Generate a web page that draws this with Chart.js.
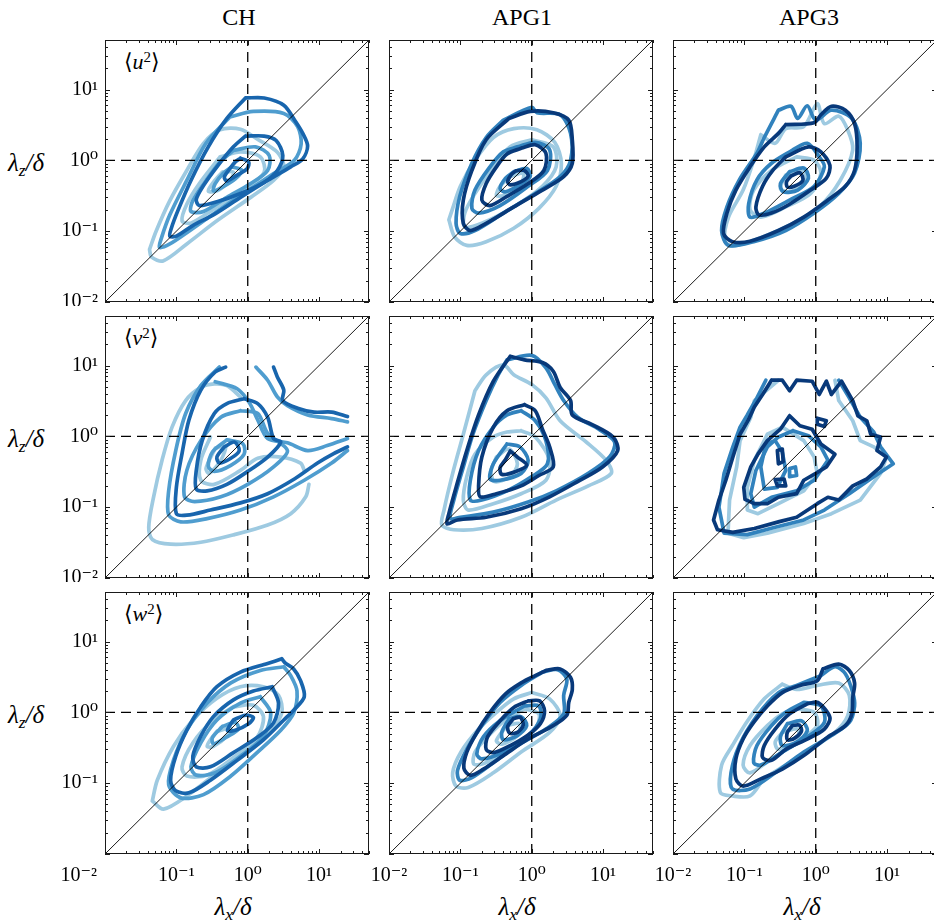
<!DOCTYPE html>
<html>
<head>
<meta charset="utf-8">
<script src="https://cdn.jsdelivr.net/npm/chart.js@4.4.1/dist/chart.umd.min.js"></script>
<style>
  body { margin: 0; background: #fff; width: 934px; height: 922px; position: relative; overflow: hidden;
         font-family: "Liberation Serif", "DejaVu Serif", serif; color: #000; }
  canvas { position: absolute; }
  .t { position: absolute; white-space: nowrap; }
  .col { top: 5px; width: 200px; text-align: center; font-size: 24px; line-height: 24px; }
  .ax { font-size: 25px; line-height: 25px; font-style: italic; }
  .xt { width: 100px; text-align: center; top: 894px; }
  .pl { font-size: 22px; line-height: 22px; }
  sub { font-size: 0.7em; vertical-align: -0.3em; line-height: 0; }
  sup { font-size: 0.68em; vertical-align: 0.45em; line-height: 0; }
</style>
</head>
<body>
<div class="t col" style="left:139px">CH</div>
<div class="t col" style="left:422px">APG1</div>
<div class="t col" style="left:709px">APG3</div>

<div class="t ax" style="left:8px;top:150px">λ<sub>z</sub>/δ</div>
<div class="t ax" style="left:8px;top:426px">λ<sub>z</sub>/δ</div>
<div class="t ax" style="left:8px;top:702px">λ<sub>z</sub>/δ</div>

<div class="t ax xt" style="left:183px">λ<sub>x</sub>/δ</div>
<div class="t ax xt" style="left:467px">λ<sub>x</sub>/δ</div>
<div class="t ax xt" style="left:752px">λ<sub>x</sub>/δ</div>

<div class="t pl" style="left:124px;top:51px">⟨<i>u</i><sup>2</sup>⟩</div>
<div class="t pl" style="left:124px;top:327px">⟨<i>v</i><sup>2</sup>⟩</div>
<div class="t pl" style="left:124px;top:603px">⟨<i>w</i><sup>2</sup>⟩</div>

<script>
// axis ticks
const tickValues = [0.01, 0.1, 1, 10];
const tickLabels = ['10⁻²', '10⁻¹', '10⁰', '10¹'];
const axisMin = 0.01, axisMax = 50;

// reference lines: lambda_z = lambda_x, lambda = delta
const diagonal = [[0.01, 0.01], [50, 50]];
const unitRow = [[0.01, 1], [50, 1]];
const unitCol = [[1, 0.01], [1, 50]];

// contours, [lambda_x/delta, lambda_z/delta]
// CH
const CH_u_light = [
  [[0.042,0.055],[0.052,0.10],[0.081,0.27],[0.14,0.72],[0.24,1.74],[0.41,2.7],[0.79,2.75],[1.35,2.0],[2.6,1.3],[3.2,0.81],[2.3,0.52],[1.1,0.30],[0.37,0.14],[0.14,0.066],[0.065,0.038],[0.045,0.043],[0.042,0.055]],
  [[0.41,1.12],[0.79,1.32],[1.5,1.12],[1.7,0.68],[0.98,0.42],[0.37,0.22],[0.16,0.13],[0.12,0.14],[0.14,0.24],[0.21,0.47],[0.41,1.12]],
  [[0.44,0.68],[0.63,0.68],[0.56,0.52],[0.37,0.37],[0.28,0.37],[0.33,0.49],[0.44,0.68]]
];
const CH_u_mid = [
  [[0.56,4.1],[1.2,4.9],[3.2,4.6],[5.0,3.0],[5.6,1.7],[4.5,1.0],[2.3,0.65],[0.98,0.37],[0.37,0.19],[0.15,0.10],[0.081,0.066],[0.058,0.059],[0.062,0.081],[0.081,0.17],[0.14,0.52],[0.26,1.74],[0.56,4.1]],
  [[0.63,1.38],[1.29,1.55],[2.0,1.17],[1.9,0.72],[1.1,0.47],[0.51,0.30],[0.24,0.19],[0.16,0.19],[0.17,0.27],[0.26,0.52],[0.41,0.95],[0.63,1.38]],
  [[0.60,0.81],[0.83,0.72],[0.67,0.55],[0.44,0.42],[0.33,0.37],[0.35,0.47],[0.45,0.65],[0.60,0.81]]
];
const CH_u_dark = [
  [[0.93,7.6],[1.7,7.6],[3.2,6.0],[4.7,3.5],[5.9,2.4],[6.9,1.6],[5.9,1.05],[4.0,0.81],[1.9,0.52],[0.79,0.30],[0.33,0.17],[0.17,0.12],[0.10,0.085],[0.081,0.085],[0.085,0.11],[0.105,0.195],[0.16,0.52],[0.28,1.55],[0.51,3.9],[0.93,7.6]],
  [[0.93,2.2],[1.7,2.2],[2.5,1.9],[3.1,1.17],[2.6,0.72],[1.7,0.49],[0.79,0.34],[0.37,0.26],[0.21,0.23],[0.19,0.28],[0.24,0.44],[0.37,0.81],[0.63,1.55],[0.93,2.2]],
  [[0.79,1.07],[1.03,0.95],[0.98,0.76],[0.71,0.62],[0.51,0.51],[0.47,0.58],[0.56,0.76],[0.67,0.95],[0.79,1.07]]
];
const CH_v_light = [
  [[0.79,3.6],[0.51,5.2],[0.34,5.5],[0.22,4.9],[0.135,3.2],[0.087,1.35],[0.063,0.46],[0.048,0.14],[0.041,0.052],[0.046,0.035],[0.083,0.030],[0.22,0.032],[0.65,0.041],[1.9,0.056],[4.0,0.081],[6.5,0.14],[7.2,0.21]],
  [[0.30,0.98],[0.22,0.46],[0.22,0.24],[0.34,0.21],[0.79,0.33],[1.38,0.49],[2.9,0.51],[5.5,0.42],[6.2,0.33]],
  [[0.35,0.68],[0.49,0.74],[0.42,0.46],[0.29,0.30],[0.26,0.35],[0.35,0.68]]
];
const CH_v_mid = [
  [[0.40,9.5],[0.22,5.2],[0.135,2.1],[0.098,0.63],[0.078,0.17],[0.078,0.078],[0.115,0.062],[0.27,0.069],[0.79,0.091],[2.3,0.14],[6.2,0.24],[15,0.42],[25,0.63]],
  [[1.3,9.5],[1.9,6.2],[2.6,3.6],[3.6,2.7],[6.9,2.0],[15,1.78],[25,1.6]],
  [[0.35,5.9],[0.71,4.7],[1.05,3.0],[1.38,1.7],[1.9,0.93],[3.6,0.81],[6.9,0.63],[13,0.74],[25,0.93]],
  [[0.79,2.3],[1.38,2.1],[1.9,1.1],[3.6,0.63],[2.3,0.37],[1.0,0.21],[0.42,0.14],[0.18,0.12],[0.13,0.14],[0.14,0.33],[0.22,0.87],[0.42,1.86],[0.79,2.3]],
  [[0.51,0.89],[0.85,0.79],[0.89,0.56],[0.58,0.39],[0.34,0.32],[0.28,0.38],[0.32,0.60],[0.51,0.89]]
];
const CH_v_dark = [
  [[0.49,9.5],[0.35,8.1],[0.22,4.5],[0.15,1.7],[0.12,0.57],[0.10,0.19],[0.10,0.081],[0.14,0.077],[0.30,0.091],[0.79,0.115],[1.9,0.155],[4.5,0.25],[9.5,0.42],[16,0.57],[25,0.71]],
  [[2.3,9.5],[2.6,6.9],[3.2,4.5],[3.1,3.2],[5.0,2.5],[8.5,2.2],[15,2.2],[25,1.9]],
  [[0.89,3.4],[1.38,2.9],[1.9,1.86],[2.3,0.93],[2.9,0.83],[1.9,0.51],[1.0,0.32],[0.51,0.21],[0.27,0.17],[0.19,0.18],[0.19,0.33],[0.23,0.87],[0.34,2.1],[0.51,2.9],[0.89,3.4]],
  [[0.47,0.71],[0.65,0.83],[0.76,0.63],[0.58,0.49],[0.40,0.42],[0.37,0.51],[0.47,0.71]]
];
const CH_w_light = [
  [[0.046,0.056],[0.054,0.11],[0.091,0.33],[0.17,0.78],[0.37,1.58],[0.79,2.3],[1.66,2.3],[2.7,1.74],[3.0,0.98],[2.1,0.56],[0.98,0.30],[0.37,0.14],[0.14,0.066],[0.066,0.043],[0.046,0.056]],
  [[0.63,1.2],[0.33,0.78],[0.17,0.37],[0.12,0.17],[0.14,0.126],[0.27,0.13],[0.63,0.23],[1.35,0.44],[1.66,0.87],[1.2,1.26],[0.63,1.2]],
  [[0.37,0.54],[0.58,0.60],[0.51,0.46],[0.33,0.33],[0.27,0.33],[0.30,0.41],[0.37,0.54]]
];
const CH_w_mid = [
  [[3.2,4.4],[1.5,3.9],[0.58,2.6],[0.27,1.35],[0.14,0.56],[0.091,0.21],[0.078,0.095],[0.115,0.062],[0.24,0.069],[0.58,0.126],[1.35,0.27],[2.9,0.56],[4.4,0.98],[4.9,2.0],[4.0,3.3],[3.2,4.4]],
  [[1.5,1.66],[0.79,1.35],[0.37,0.78],[0.22,0.37],[0.16,0.17],[0.19,0.13],[0.35,0.14],[0.79,0.24],[1.66,0.46],[2.1,0.98],[1.5,1.66]],
  [[0.44,0.63],[0.67,0.72],[0.74,0.58],[0.51,0.45],[0.33,0.36],[0.32,0.44],[0.44,0.63]]
];
const CH_w_dark = [
  [[3.0,5.7],[1.9,4.9],[0.79,3.7],[0.37,2.3],[0.22,1.2],[0.14,0.56],[0.098,0.24],[0.083,0.11],[0.098,0.078],[0.15,0.073],[0.30,0.11],[0.71,0.21],[1.66,0.41],[3.2,0.78],[4.4,1.07],[6.2,1.66],[5.5,2.8],[4.4,4.1],[3.4,4.9],[3.0,5.7]],
  [[2.2,2.3],[1.2,2.0],[0.63,1.5],[0.33,0.87],[0.22,0.46],[0.17,0.24],[0.19,0.17],[0.30,0.17],[0.63,0.27],[1.35,0.44],[2.3,0.71],[2.7,1.35],[2.2,2.3]],
  [[0.63,0.78],[0.93,0.91],[1.2,0.85],[1.03,0.69],[0.67,0.56],[0.52,0.55],[0.58,0.69],[0.63,0.78]]
];
// APG1
const APG1_u_light = [
  [[0.069,0.145],[0.083,0.083],[0.123,0.063],[0.23,0.071],[0.56,0.11],[1.26,0.21],[2.2,0.43],[2.6,0.91],[2.1,1.8],[1.18,2.7],[0.56,2.8],[0.29,2.1],[0.16,1.0],[0.10,0.43],[0.078,0.21],[0.069,0.145]],
  [[1.0,1.95],[2.0,1.55],[2.2,0.81],[1.41,0.43],[0.56,0.22],[0.20,0.129],[0.115,0.115],[0.115,0.18],[0.16,0.34],[0.29,0.81],[0.50,1.55],[1.0,1.95]],
  [[0.50,0.59],[0.76,0.66],[0.71,0.47],[0.40,0.32],[0.32,0.32],[0.36,0.43],[0.50,0.59]]
];
const APG1_u_mid = [
  [[0.40,3.7],[1.0,5.6],[1.18,4.7],[2.5,4.4],[3.5,2.4],[3.5,1.0],[2.5,0.59],[1.12,0.34],[0.40,0.18],[0.16,0.102],[0.10,0.093],[0.087,0.129],[0.098,0.31],[0.145,0.91],[0.23,2.1],[0.40,3.7]],
  [[0.63,1.55],[1.12,1.8],[1.78,1.41],[1.66,0.72],[0.89,0.43],[0.36,0.23],[0.18,0.18],[0.145,0.21],[0.16,0.38],[0.26,0.81],[0.40,1.32],[0.63,1.55]],
  [[0.56,0.69],[0.85,0.77],[0.95,0.59],[0.68,0.45],[0.43,0.36],[0.36,0.40],[0.43,0.56],[0.56,0.69]]
];
const APG1_u_dark = [
  [[0.48,3.9],[0.95,4.9],[2.0,4.7],[3.3,3.7],[3.7,1.95],[3.7,0.91],[2.8,0.59],[1.41,0.38],[0.56,0.22],[0.23,0.129],[0.138,0.102],[0.11,0.129],[0.11,0.275],[0.145,0.72],[0.23,1.95],[0.48,3.9]],
  [[0.71,1.48],[1.12,1.66],[1.58,1.26],[1.48,0.72],[0.89,0.47],[0.45,0.31],[0.26,0.23],[0.20,0.275],[0.23,0.47],[0.32,0.81],[0.45,1.23],[0.71,1.48]],
  [[0.60,0.71],[0.79,0.72],[0.89,0.60],[0.71,0.50],[0.50,0.45],[0.46,0.50],[0.51,0.62],[0.60,0.71]]
];
const APG1_v_light = [
  [[0.16,4.4],[0.23,7.4],[0.40,10.2],[0.56,7.4],[1.0,5.4],[1.58,3.5],[2.5,1.66],[5.5,0.87],[11,0.46],[13,0.30],[6.2,0.20],[2.2,0.126],[0.71,0.072],[0.20,0.050],[0.081,0.048],[0.055,0.056],[0.059,0.091],[0.078,0.30],[0.11,1.07],[0.16,4.4]],
  [[0.71,1.2],[1.12,0.98],[1.78,0.46],[1.58,0.24],[0.71,0.155],[0.29,0.112],[0.129,0.091],[0.11,0.126],[0.123,0.27],[0.16,0.56],[0.29,0.98],[0.45,1.15],[0.71,1.2]],
  [[0.32,0.51],[0.48,0.66],[0.63,0.41],[0.50,0.27],[0.30,0.23],[0.27,0.33],[0.32,0.51]]
];
const APG1_v_mid = [
  [[0.45,12],[1.0,13.9],[1.58,9.3],[2.1,5.4],[2.8,3.2],[4.4,1.86],[8.7,1.26],[14.5,0.83],[12.3,0.51],[6.2,0.30],[2.2,0.17],[0.89,0.118],[0.29,0.085],[0.10,0.072],[0.072,0.069],[0.081,0.126],[0.11,0.37],[0.15,1.07],[0.23,3.2],[0.34,7.4],[0.45,12]],
  [[0.71,2.3],[1.12,1.66],[1.58,0.87],[1.66,0.41],[1.0,0.27],[0.45,0.17],[0.20,0.126],[0.138,0.126],[0.138,0.24],[0.18,0.63],[0.29,1.35],[0.45,2.0],[0.71,2.3]],
  [[0.45,0.78],[0.68,0.71],[0.89,0.46],[0.71,0.30],[0.36,0.24],[0.26,0.25],[0.29,0.41],[0.45,0.78]]
];
const APG1_v_dark = [
  [[0.50,13.5],[0.79,12],[1.41,11],[2.0,8.3],[2.5,4.9],[3.5,3.2],[3.7,2.0],[6.9,1.48],[13.8,0.98],[16,0.63],[9.8,0.37],[4.4,0.23],[1.78,0.14],[0.71,0.095],[0.23,0.072],[0.091,0.066],[0.065,0.058],[0.069,0.081],[0.087,0.19],[0.123,0.63],[0.18,2.0],[0.29,6.0],[0.50,13.5]],
  [[0.79,2.8],[1.12,2.3],[1.41,1.26],[1.78,0.71],[2.0,0.37],[1.26,0.28],[0.71,0.20],[0.32,0.155],[0.19,0.14],[0.18,0.20],[0.20,0.51],[0.29,1.35],[0.45,2.3],[0.79,2.8]],
  [[0.50,0.62],[0.63,0.51],[0.85,0.39],[0.60,0.32],[0.38,0.29],[0.36,0.36],[0.43,0.47],[0.50,0.62]]
];
const APG1_w_light = [
  [[1.0,1.9],[1.78,1.55],[2.5,0.89],[1.78,0.52],[0.71,0.275],[0.29,0.14],[0.129,0.087],[0.087,0.091],[0.078,0.14],[0.102,0.275],[0.18,0.58],[0.32,1.0],[0.56,1.55],[1.0,1.9]],
  [[0.79,1.12],[1.26,0.95],[1.12,0.58],[0.56,0.34],[0.23,0.195],[0.155,0.185],[0.16,0.275],[0.26,0.49],[0.45,0.81],[0.79,1.12]],
  [[0.45,0.65],[0.68,0.69],[0.63,0.47],[0.38,0.355],[0.32,0.40],[0.45,0.65]]
];
const APG1_w_mid = [
  [[1.41,3.7],[2.3,4.0],[3.1,2.95],[2.8,1.74],[2.8,0.95],[1.58,0.58],[0.63,0.34],[0.29,0.195],[0.145,0.12],[0.098,0.11],[0.091,0.15],[0.123,0.30],[0.20,0.65],[0.36,1.38],[0.71,2.4],[1.41,3.7]],
  [[0.79,1.23],[1.26,1.23],[1.32,0.81],[0.89,0.47],[0.40,0.275],[0.20,0.22],[0.17,0.26],[0.21,0.45],[0.36,0.76],[0.79,1.23]],
  [[0.48,0.81],[0.71,0.87],[0.85,0.65],[0.63,0.47],[0.40,0.41],[0.38,0.52],[0.48,0.81]]
];
const APG1_w_dark = [
  [[1.58,3.9],[2.5,4.1],[3.5,3.1],[3.7,2.1],[3.3,1.38],[3.1,0.91],[2.0,0.65],[0.89,0.42],[0.40,0.245],[0.21,0.158],[0.138,0.129],[0.112,0.162],[0.123,0.275],[0.17,0.52],[0.26,1.0],[0.43,1.82],[0.71,2.6],[1.12,3.3],[1.58,3.9]],
  [[0.89,1.45],[1.29,1.45],[1.51,1.05],[1.32,0.69],[0.89,0.48],[0.50,0.34],[0.29,0.27],[0.23,0.30],[0.24,0.45],[0.36,0.76],[0.56,1.17],[0.89,1.45]],
  [[0.55,0.81],[0.69,0.85],[0.76,0.66],[0.63,0.52],[0.49,0.51],[0.46,0.63],[0.55,0.81]]
];
// APG3
const APG3_u_light = [
  [[0.17,2.3],[0.27,1.74],[0.38,2.8],[0.68,3.0],[1.05,6.3],[1.32,3.3],[2.1,4.2],[2.8,2.7],[3.3,1.41],[2.2,0.52],[1.12,0.22],[0.48,0.129],[0.17,0.081],[0.068,0.062],[0.053,0.074],[0.06,0.158],[0.096,0.38],[0.135,1.0],[0.17,2.3]],
  [[0.54,1.12],[0.95,1.0],[1.18,0.66],[0.85,0.34],[0.38,0.22],[0.17,0.158],[0.12,0.20],[0.135,0.38],[0.24,0.72],[0.54,1.12]],
  [[0.38,0.62],[0.68,0.69],[0.71,0.47],[0.43,0.36],[0.32,0.40],[0.38,0.62]]
];
const APG3_u_mid = [
  [[0.30,5.1],[0.45,5.8],[0.56,3.9],[0.76,5.9],[1.0,3.7],[1.66,5.1],[3.2,3.9],[4.2,1.74],[3.5,0.66],[2.1,0.34],[0.95,0.18],[0.38,0.102],[0.135,0.071],[0.06,0.063],[0.048,0.102],[0.057,0.22],[0.085,0.53],[0.15,1.26],[0.19,2.1],[0.30,5.1]],
  [[0.48,1.41],[0.76,1.74],[1.12,1.12],[1.32,0.81],[0.95,0.43],[0.43,0.275],[0.19,0.18],[0.12,0.158],[0.115,0.245],[0.15,0.53],[0.24,0.91],[0.48,1.41]],
  [[0.43,0.69],[0.68,0.78],[0.79,0.56],[0.56,0.38],[0.35,0.36],[0.32,0.47],[0.43,0.69]]
];
const APG3_u_dark = [
  [[0.38,3.2],[0.95,3.4],[1.18,4.4],[1.66,5.8],[2.6,5.1],[3.5,3.3],[3.8,1.55],[3.5,0.72],[2.6,0.43],[1.48,0.275],[0.68,0.158],[0.30,0.102],[0.12,0.072],[0.068,0.071],[0.051,0.093],[0.057,0.18],[0.076,0.38],[0.12,0.81],[0.19,1.55],[0.30,2.4],[0.38,3.2]],
  [[0.38,1.12],[0.79,1.55],[1.18,1.32],[1.58,0.85],[1.41,0.56],[0.85,0.38],[0.43,0.24],[0.24,0.18],[0.16,0.17],[0.145,0.22],[0.18,0.43],[0.25,0.72],[0.38,1.12]],
  [[0.45,0.60],[0.60,0.67],[0.66,0.52],[0.50,0.43],[0.40,0.42],[0.39,0.50],[0.45,0.60]]
];
const APG3_v_light = [
  [[0.30,6.2],[0.138,3.2],[0.123,1.86],[0.087,0.87],[0.078,0.37],[0.062,0.126],[0.059,0.043],[0.098,0.037],[0.21,0.043],[0.68,0.059],[1.66,0.081],[4.2,0.126],[8.1,0.30],[9.8,0.51],[6.5,0.71],[4.2,0.87],[3.3,1.66],[2.1,3.2],[1.86,6.2]],
  [[0.21,1.07],[0.34,1.35],[0.68,0.87],[0.95,0.51],[1.05,0.30],[0.68,0.17],[0.30,0.112],[0.155,0.081],[0.11,0.091],[0.11,0.19],[0.138,0.46],[0.21,1.07]]
];
const APG3_v_mid = [
  [[0.20,6.2],[0.15,3.5],[0.11,2.0],[0.087,1.35],[0.069,0.71],[0.052,0.30],[0.044,0.10],[0.052,0.043],[0.11,0.041],[0.27,0.052],[0.68,0.066],[1.32,0.091],[2.95,0.155],[6.5,0.27],[12.2,0.41],[8.1,0.71],[6.5,1.15],[4.2,1.86],[2.95,3.5],[2.1,6.2]],
  [[0.48,1.2],[0.79,1.02],[1.18,0.71],[1.48,0.46],[0.95,0.24],[0.54,0.17],[0.24,0.138],[0.138,0.10],[0.123,0.155],[0.145,0.33],[0.21,0.71],[0.30,0.98],[0.48,1.2]],
  [[0.20,0.78],[0.27,0.87],[0.34,0.60],[0.38,0.33],[0.29,0.19],[0.19,0.18],[0.17,0.37],[0.20,0.78]],
  [[0.43,0.35],[0.52,0.37],[0.54,0.28],[0.43,0.27],[0.43,0.35]]
];
const APG3_v_dark = [
  [[0.24,6.2],[0.18,3.9],[0.138,2.6],[0.115,1.74],[0.087,1.07],[0.069,0.51],[0.055,0.24],[0.044,0.126],[0.037,0.066],[0.042,0.048],[0.069,0.044],[0.138,0.050],[0.30,0.062],[0.54,0.072],[1.05,0.112],[1.48,0.138],[2.1,0.126],[3.3,0.20],[5.2,0.25],[8.1,0.37],[9.8,0.51],[7.2,0.63],[8.1,0.98],[5.9,1.07],[5.2,1.66],[3.9,1.95],[3.3,3.2],[2.3,6.0],[1.66,3.9],[1.41,6.0],[1.12,3.9],[0.89,6.0],[0.54,6.2],[0.43,4.4],[0.34,6.2],[0.24,6.2]],
  [[0.43,1.95],[0.60,1.41],[0.89,1.26],[1.18,0.78],[1.86,0.56],[1.41,0.37],[1.0,0.30],[0.68,0.24],[0.54,0.155],[0.30,0.138],[0.21,0.112],[0.138,0.112],[0.102,0.129],[0.098,0.19],[0.123,0.37],[0.155,0.56],[0.21,0.87],[0.32,1.26],[0.43,1.95]],
  [[0.29,0.63],[0.34,0.66],[0.35,0.44],[0.30,0.41],[0.29,0.63]],
  [[0.27,0.245],[0.36,0.25],[0.38,0.20],[0.29,0.20],[0.27,0.245]],
  [[1.05,1.8],[1.41,1.66],[1.32,1.38],[1.05,1.48],[1.05,1.8]]
];
const APG3_w_light = [
  [[0.34,2.5],[0.54,2.1],[1.05,2.4],[2.1,2.6],[2.95,1.74],[2.8,0.89],[1.86,0.52],[0.85,0.30],[0.38,0.18],[0.19,0.115],[0.12,0.066],[0.068,0.066],[0.046,0.074],[0.048,0.18],[0.068,0.34],[0.107,0.72],[0.19,1.55],[0.34,2.5]],
  [[0.54,1.12],[0.95,1.0],[1.05,0.65],[0.60,0.40],[0.24,0.22],[0.12,0.14],[0.096,0.18],[0.12,0.34],[0.21,0.65],[0.34,0.95],[0.54,1.12]],
  [[0.34,0.52],[0.56,0.58],[0.54,0.38],[0.30,0.30],[0.27,0.38],[0.34,0.52]]
];
const APG3_w_mid = [
  [[1.18,3.3],[1.86,4.4],[2.6,3.5],[3.3,1.9],[3.5,1.23],[2.95,0.72],[1.66,0.47],[0.68,0.275],[0.27,0.14],[0.12,0.083],[0.068,0.083],[0.065,0.14],[0.085,0.34],[0.15,0.89],[0.30,1.9],[0.54,2.4],[1.18,3.3]],
  [[0.68,1.38],[1.18,1.23],[1.32,0.72],[0.76,0.45],[0.34,0.275],[0.17,0.18],[0.135,0.195],[0.15,0.34],[0.24,0.65],[0.38,1.0],[0.68,1.38]],
  [[0.40,0.69],[0.63,0.76],[0.76,0.55],[0.54,0.38],[0.34,0.34],[0.32,0.45],[0.40,0.69]]
];
const APG3_w_dark = [
  [[1.26,4.1],[2.1,4.8],[2.95,3.9],[3.5,2.6],[3.3,1.62],[3.2,0.95],[2.6,0.65],[1.48,0.45],[0.68,0.245],[0.34,0.158],[0.17,0.115],[0.096,0.091],[0.076,0.115],[0.076,0.22],[0.096,0.42],[0.135,0.72],[0.21,1.23],[0.34,1.9],[0.60,2.4],[1.05,2.8],[1.26,4.1]],
  [[0.76,1.32],[1.07,1.38],[1.58,0.85],[1.32,0.58],[0.76,0.42],[0.38,0.30],[0.24,0.21],[0.18,0.23],[0.19,0.34],[0.27,0.58],[0.43,0.95],[0.76,1.32]],
  [[0.47,0.65],[0.59,0.66],[0.63,0.54],[0.50,0.43],[0.40,0.41],[0.40,0.52],[0.47,0.65]]
];

const shades = {
  CH:   ['#9ecae1', '#4f9dcf', '#1865ad'],
  APG1: ['#9ecae1', '#3182bd', '#08397a'],
  APG3: ['#9ecae1', '#3182bd', '#08397a']
};

const panels = [
  { row: 0, col: 0, name: 'CH',   sets: [CH_u_light, CH_u_mid, CH_u_dark] },
  { row: 0, col: 1, name: 'APG1', sets: [APG1_u_light, APG1_u_mid, APG1_u_dark] },
  { row: 0, col: 2, name: 'APG3', sets: [APG3_u_light, APG3_u_mid, APG3_u_dark] },
  { row: 1, col: 0, name: 'CH',   sets: [CH_v_light, CH_v_mid, CH_v_dark] },
  { row: 1, col: 1, name: 'APG1', sets: [APG1_v_light, APG1_v_mid, APG1_v_dark] },
  { row: 1, col: 2, name: 'APG3', sets: [APG3_v_light, APG3_v_mid, APG3_v_dark], jagged: true },
  { row: 2, col: 0, name: 'CH',   sets: [CH_w_light, CH_w_mid, CH_w_dark] },
  { row: 2, col: 1, name: 'APG1', sets: [APG1_w_light, APG1_w_mid, APG1_w_dark] },
  { row: 2, col: 2, name: 'APG3', sets: [APG3_w_light, APG3_w_mid, APG3_w_dark] }
];

const colLeft = [105, 389, 673];
const rowTop = [40, 316, 592];
const PW = 264, PH = 262;
const FONT = '"Liberation Serif", "DejaVu Serif", serif';

function labelFor(v) {
  return tickLabels[Math.round(Math.log10(v)) + 2];
}

// fixed axis sizes, no extra room for the end labels
function fixSize(s, w, h) {
  s.width = w; s.height = h;
  s.paddingLeft = s.paddingRight = s.paddingTop = s.paddingBottom = 0;
}

// frame with inward log ticks on all four sides
const framePlugin = {
  id: 'frame',
  afterDatasetsDraw(chart, args, opts) {
    const { ctx, chartArea: a, scales: { x, y } } = chart;
    ctx.save();
    ctx.strokeStyle = '#1a1a1a';
    ctx.lineWidth = 1;
    ctx.beginPath();
    for (let n = -2; n <= 1; n++) {
      for (let k = 1; k <= 9; k++) {
        const v = k * Math.pow(10, n);
        if (v > axisMax) break;
        const len = k === 1 ? 5 : 3;
        const px = Math.round(x.getPixelForValue(v)) + 0.5;
        ctx.moveTo(px, a.bottom); ctx.lineTo(px, a.bottom - len);
        ctx.moveTo(px, a.top); ctx.lineTo(px, a.top + len);
        const py = Math.round(y.getPixelForValue(v)) + 0.5;
        ctx.moveTo(a.left, py); ctx.lineTo(a.left + len, py);
        ctx.moveTo(a.right, py); ctx.lineTo(a.right - len, py);
      }
    }
    ctx.stroke();
    ctx.strokeRect(Math.round(a.left) + 0.5, Math.round(a.top) + 0.5,
                   Math.round(a.right - a.left) - 1, Math.round(a.bottom - a.top) - 1);
    if (opts.cornerLabel) {
      ctx.fillStyle = '#000';
      ctx.font = '20px ' + FONT;
      ctx.textAlign = 'right';
      ctx.textBaseline = 'middle';
      ctx.fillText(tickLabels[0], 97, a.bottom + 10 + 12);
    }
    ctx.restore();
  }
};

panels.forEach(p => {
  const left = colLeft[p.col], top = rowTop[p.row];
  const showX = p.row === 2, showY = p.col === 0;
  const leftRoom = showY ? 0 : 24;
  const cLeft = showY ? 0 : left - leftRoom;
  const cTop = top - 4;
  const canvas = document.createElement('canvas');
  canvas.width = (left - cLeft) + PW + 4;
  canvas.height = 4 + PH + (showX ? 44 : 4);
  canvas.style.left = cLeft + 'px';
  canvas.style.top = cTop + 'px';
  document.body.appendChild(canvas);

  const datasets = [
    { data: diagonal, borderColor: '#000', borderWidth: 0.9, order: 0 },
    { data: unitRow, borderColor: '#000', borderWidth: 1.3, borderDash: [10, 6], order: 0 },
    { data: unitCol, borderColor: '#000', borderWidth: 1.3, borderDash: [10, 6], order: 0 }
  ];
  p.sets.forEach((set, shade) => {
    set.forEach(pts => datasets.push({
      data: pts,
      borderColor: shades[p.name][shade],
      borderWidth: 3.7,
      tension: p.jagged ? 0 : 0.3,
      borderJoinStyle: 'round',
      borderCapStyle: 'round',
      order: 3 - shade
    }));
  });
  datasets.forEach(d => { d.pointRadius = 0; d.fill = false; });

  const xTicks = (p.row === 2 && p.col === 0) ? tickValues.slice(1) : tickValues;
  const yTicks = (p.row === 2 && p.col === 0) ? tickValues.slice(1) : tickValues;

  new Chart(canvas, {
    type: 'line',
    data: { datasets },
    plugins: [framePlugin],
    options: {
      responsive: false,
      animation: false,
      events: [],
      layout: { padding: { left: leftRoom, right: 4, top: 4, bottom: showX ? 0 : 4 } },
      plugins: {
        legend: { display: false },
        tooltip: { enabled: false },
        frame: { cornerLabel: p.row === 2 && p.col === 0 }
      },
      scales: {
        x: {
          type: 'logarithmic',
          min: axisMin, max: axisMax,
          display: showX,
          grid: { display: false, drawTicks: false },
          border: { display: false },
          afterBuildTicks: s => { s.ticks = xTicks.map(v => ({ value: v })); },
          afterFit: s => fixSize(s, s.width, showX ? 44 : 0),
          ticks: { callback: v => labelFor(v), color: '#000', font: { family: FONT, size: 20 },
                   padding: 10, maxRotation: 0, autoSkip: false }
        },
        y: {
          type: 'logarithmic',
          min: axisMin, max: axisMax,
          display: showY,
          grid: { display: false, drawTicks: false },
          border: { display: false },
          afterBuildTicks: s => { s.ticks = yTicks.map(v => ({ value: v })); },
          afterFit: s => fixSize(s, showY ? 105 : 0, s.height),
          ticks: { callback: v => labelFor(v), color: '#000', font: { family: FONT, size: 20 },
                   padding: 7, autoSkip: false }
        }
      }
    }
  });
});
</script>
</body>
</html>
